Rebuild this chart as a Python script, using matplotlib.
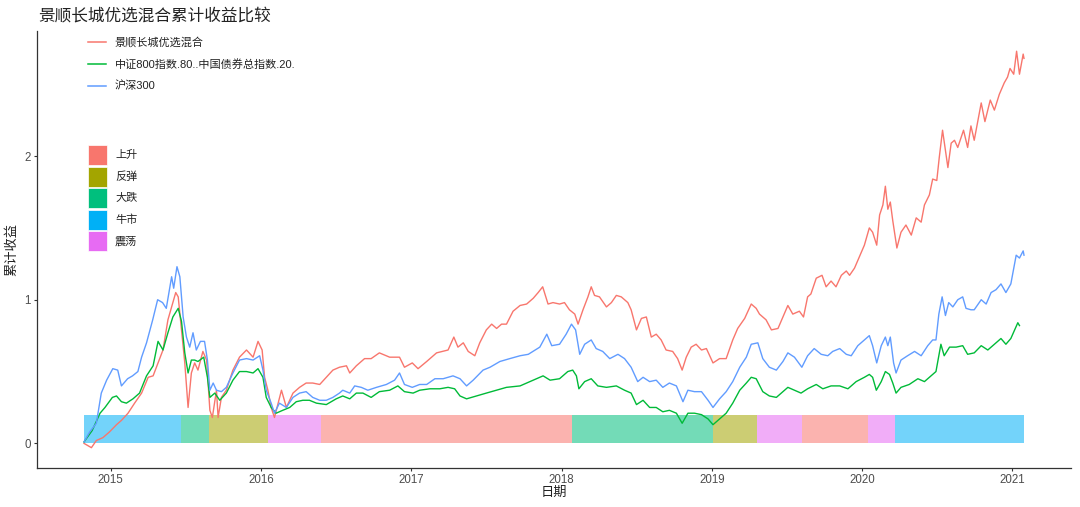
import numpy as np
import pandas as pd
import matplotlib
matplotlib.use('Agg')
import matplotlib.pyplot as plt
import matplotlib.dates as mdates
from matplotlib.lines import Line2D
from matplotlib.patches import Rectangle

plt.rcParams['font.family'] = ['Liberation Sans', 'Noto Sans CJK SC', 'DejaVu Sans']

# ---- data ----
series_names = ['景顺长城优选混合', '中证800指数.80..中国债券总指数.20.', '沪深300']
series_colors = ['#F8766D', '#00BA38', '#619CFF']

fund_dates = ['2014-10-28', '2014-11-15', '2014-11-27', '2014-12-13', '2014-12-29',
              '2015-01-15', '2015-01-27', '2015-02-12', '2015-02-28', '2015-03-17', '2015-04-02', '2015-04-14',
              '2015-04-26', '2015-05-08', '2015-05-20', '2015-06-01', '2015-06-08', '2015-06-14', '2015-06-22',
              '2015-06-30', '2015-07-08', '2015-07-16', '2015-07-24', '2015-08-01', '2015-08-13', '2015-08-22',
              '2015-08-30', '2015-09-05', '2015-09-15', '2015-09-19', '2015-09-27', '2015-10-09', '2015-10-25',
              '2015-11-10', '2015-11-27', '2015-12-13', '2015-12-25',
              '2016-01-04', '2016-01-10', '2016-01-18', '2016-01-26', '2016-02-03', '2016-02-20', '2016-03-03',
              '2016-03-19', '2016-04-04', '2016-04-20', '2016-05-06', '2016-05-23', '2016-06-08', '2016-06-24',
              '2016-07-10', '2016-07-27', '2016-08-04', '2016-08-20', '2016-09-09', '2016-09-25', '2016-10-15',
              '2016-11-09', '2016-12-03', '2016-12-15',
              '2017-01-03', '2017-01-17', '2017-02-07', '2017-03-03', '2017-03-31', '2017-04-14', '2017-04-24',
              '2017-05-07', '2017-05-19', '2017-06-04', '2017-06-16', '2017-07-02', '2017-07-15', '2017-07-27',
              '2017-08-08', '2017-08-20', '2017-09-05', '2017-09-22', '2017-10-08', '2017-10-24', '2017-11-05',
              '2017-11-16', '2017-11-29', '2017-12-11', '2017-12-27',
              '2018-01-08', '2018-01-20', '2018-02-02', '2018-02-10', '2018-02-22', '2018-03-06', '2018-03-14',
              '2018-03-22', '2018-04-03', '2018-04-20', '2018-05-02', '2018-05-14', '2018-05-26', '2018-06-11',
              '2018-06-19', '2018-07-02', '2018-07-14', '2018-07-26', '2018-08-07', '2018-08-19', '2018-08-31',
              '2018-09-12', '2018-09-28', '2018-10-10', '2018-10-21', '2018-10-31', '2018-11-12', '2018-11-24',
              '2018-12-07', '2018-12-19',
              '2019-01-04', '2019-01-20', '2019-02-05', '2019-02-21', '2019-03-05', '2019-03-22', '2019-04-07',
              '2019-04-19', '2019-04-27', '2019-05-13', '2019-05-26', '2019-06-11', '2019-06-23', '2019-07-05',
              '2019-07-17', '2019-08-02', '2019-08-12', '2019-08-22', '2019-08-30', '2019-09-12', '2019-09-26',
              '2019-10-06', '2019-10-18', '2019-10-30', '2019-11-12', '2019-11-24', '2019-12-02', '2019-12-14',
              '2019-12-26',
              '2020-01-07', '2020-01-19', '2020-01-27', '2020-02-06', '2020-02-13', '2020-02-21', '2020-02-27',
              '2020-03-04', '2020-03-10', '2020-03-16', '2020-03-26', '2020-04-05', '2020-04-17', '2020-04-30',
              '2020-05-12', '2020-05-24', '2020-06-01', '2020-06-13', '2020-06-21', '2020-07-01', '2020-07-07',
              '2020-07-15', '2020-07-22', '2020-07-28', '2020-08-05', '2020-08-13', '2020-08-21', '2020-09-04',
              '2020-09-14', '2020-09-22', '2020-09-30', '2020-10-17', '2020-10-26', '2020-11-08', '2020-11-18',
              '2020-11-30', '2020-12-12', '2020-12-20', '2020-12-26',
              '2021-01-04', '2021-01-11', '2021-01-18', '2021-01-27', '2021-01-29']
fund_values = [0.00, -0.03, 0.02, 0.04, 0.08,
               0.13, 0.16, 0.21, 0.28, 0.35, 0.46, 0.47, 0.56, 0.65, 0.86, 0.98, 1.05, 1.02, 0.79, 0.56, 0.25,
               0.49, 0.56, 0.51, 0.64, 0.58, 0.23, 0.18, 0.37, 0.18, 0.32, 0.37, 0.51, 0.60, 0.65, 0.60, 0.71,
               0.65, 0.46, 0.37, 0.25, 0.18, 0.37, 0.25, 0.35, 0.39, 0.42, 0.42, 0.41, 0.46, 0.51, 0.53, 0.54,
               0.49, 0.54, 0.59, 0.59, 0.63, 0.60, 0.60, 0.53,
               0.56, 0.52, 0.57, 0.63, 0.65, 0.74, 0.67, 0.70, 0.64, 0.61, 0.70, 0.79, 0.83, 0.80, 0.83, 0.83,
               0.92, 0.96, 0.97, 1.01, 1.05, 1.09, 0.97, 0.98, 0.97,
               0.98, 0.93, 0.90, 0.83, 0.93, 1.02, 1.09, 1.03, 1.02, 0.95, 0.98, 1.03, 1.02, 0.98, 0.93, 0.79,
               0.87, 0.88, 0.74, 0.76, 0.72, 0.65, 0.64, 0.59, 0.51, 0.60, 0.67, 0.69, 0.65, 0.66,
               0.56, 0.59, 0.59, 0.72, 0.80, 0.87, 0.97, 0.94, 0.90, 0.86, 0.79, 0.80, 0.88, 0.96, 0.90, 0.92,
               0.88, 1.02, 1.04, 1.15, 1.17, 1.09, 1.13, 1.09, 1.17, 1.20, 1.17, 1.22, 1.30,
               1.38, 1.50, 1.47, 1.38, 1.59, 1.66, 1.79, 1.63, 1.68, 1.55, 1.36, 1.47, 1.52, 1.45, 1.57, 1.54,
               1.66, 1.73, 1.84, 1.83, 1.99, 2.18, 2.04, 1.92, 2.09, 2.11, 2.06, 2.18, 2.06, 2.21, 2.11, 2.37,
               2.24, 2.39, 2.32, 2.43, 2.51, 2.55, 2.61,
               2.57, 2.73, 2.57, 2.71, 2.68]

mix_dates = ['2014-10-28', '2014-11-17', '2014-12-06', '2014-12-18',
             '2015-01-05', '2015-01-15', '2015-01-27', '2015-02-08', '2015-02-24', '2015-03-12', '2015-03-29',
             '2015-04-14', '2015-04-26', '2015-05-08', '2015-05-20', '2015-06-01', '2015-06-14', '2015-06-22',
             '2015-06-30', '2015-07-08', '2015-07-16', '2015-07-24', '2015-08-01', '2015-08-15', '2015-08-24',
             '2015-08-30', '2015-09-11', '2015-09-23', '2015-10-09', '2015-10-25', '2015-11-10', '2015-11-27',
             '2015-12-13', '2015-12-25',
             '2016-01-06', '2016-01-14', '2016-01-26', '2016-02-07', '2016-02-23', '2016-03-11', '2016-03-27',
             '2016-04-12', '2016-04-28', '2016-05-15', '2016-06-08', '2016-07-02', '2016-07-18', '2016-08-04',
             '2016-08-20', '2016-09-05', '2016-09-25', '2016-10-15', '2016-11-09', '2016-11-29', '2016-12-15',
             '2017-01-05', '2017-01-21', '2017-02-15', '2017-03-11', '2017-03-31', '2017-04-16', '2017-04-29',
             '2017-05-15', '2017-06-08', '2017-07-02', '2017-07-27', '2017-08-20', '2017-09-22', '2017-10-24',
             '2017-11-17', '2017-12-04', '2017-12-27',
             '2018-01-16', '2018-01-28', '2018-02-06', '2018-02-12', '2018-02-26', '2018-03-14', '2018-03-30',
             '2018-04-20', '2018-05-14', '2018-06-03', '2018-06-19', '2018-07-02', '2018-07-18', '2018-08-03',
             '2018-08-19', '2018-09-04', '2018-09-20', '2018-10-07', '2018-10-21', '2018-11-04', '2018-11-20',
             '2018-12-07', '2018-12-23',
             '2019-01-04', '2019-01-20', '2019-02-05', '2019-02-21', '2019-03-10', '2019-03-26', '2019-04-07',
             '2019-04-19', '2019-05-05', '2019-05-21', '2019-06-07', '2019-06-23', '2019-07-05', '2019-07-21',
             '2019-08-06', '2019-08-22', '2019-09-12', '2019-09-28', '2019-10-18', '2019-11-08', '2019-11-28',
             '2019-12-18',
             '2020-01-07', '2020-01-19', '2020-01-27', '2020-02-05', '2020-02-17', '2020-02-27', '2020-03-08',
             '2020-03-16', '2020-03-24', '2020-04-05', '2020-04-25', '2020-05-16', '2020-06-01', '2020-06-17',
             '2020-06-29', '2020-07-11', '2020-07-19', '2020-08-01', '2020-08-17', '2020-09-02', '2020-09-14',
             '2020-09-30', '2020-10-17', '2020-11-02', '2020-11-18', '2020-12-04', '2020-12-16', '2020-12-28',
             '2021-01-11', '2021-01-14', '2021-01-18']
mix_values = [0.01, 0.09, 0.21, 0.25,
              0.32, 0.33, 0.29, 0.28, 0.31, 0.35, 0.47, 0.54, 0.71, 0.65, 0.77, 0.88, 0.94, 0.85, 0.63, 0.49,
              0.58, 0.58, 0.57, 0.60, 0.46, 0.32, 0.35, 0.30, 0.35, 0.44, 0.50, 0.50, 0.49, 0.52,
              0.46, 0.32, 0.25, 0.21, 0.23, 0.25, 0.29, 0.30, 0.30, 0.28, 0.27, 0.31, 0.33, 0.31, 0.35, 0.35,
              0.32, 0.36, 0.37, 0.40, 0.36,
              0.35, 0.37, 0.38, 0.38, 0.39, 0.38, 0.33, 0.31, 0.33, 0.35, 0.37, 0.39, 0.40, 0.44, 0.47, 0.44,
              0.45,
              0.50, 0.51, 0.47, 0.38, 0.43, 0.45, 0.40, 0.39, 0.40, 0.37, 0.35, 0.27, 0.30, 0.25, 0.25, 0.22,
              0.23, 0.21, 0.14, 0.21, 0.21, 0.20, 0.17,
              0.13, 0.17, 0.21, 0.28, 0.37, 0.42, 0.46, 0.45, 0.36, 0.33, 0.32, 0.36, 0.39, 0.37, 0.35, 0.38,
              0.41, 0.38, 0.40, 0.40, 0.38, 0.43,
              0.46, 0.48, 0.46, 0.37, 0.43, 0.50, 0.48, 0.42, 0.35, 0.39, 0.41, 0.45, 0.43, 0.47, 0.50, 0.69,
              0.61, 0.67, 0.67, 0.68, 0.62, 0.63, 0.68, 0.65, 0.69, 0.73, 0.69, 0.73,
              0.82, 0.84, 0.82]

hs300_dates = ['2014-10-28', '2014-11-11', '2014-11-27', '2014-12-09', '2014-12-22',
               '2015-01-06', '2015-01-18', '2015-01-27', '2015-02-11', '2015-02-23', '2015-03-08', '2015-03-17',
               '2015-03-29', '2015-04-13', '2015-04-25', '2015-05-07', '2015-05-16', '2015-05-29', '2015-06-03',
               '2015-06-11', '2015-06-18', '2015-06-26', '2015-07-04', '2015-07-12', '2015-07-20', '2015-07-28',
               '2015-08-07', '2015-08-17', '2015-08-24', '2015-08-30', '2015-09-07', '2015-09-15', '2015-09-27',
               '2015-10-09', '2015-10-25', '2015-11-10', '2015-11-27', '2015-12-13', '2015-12-29',
               '2016-01-06', '2016-01-14', '2016-01-26', '2016-02-03', '2016-02-15', '2016-03-03', '2016-03-19',
               '2016-04-04', '2016-04-20', '2016-05-06', '2016-05-23', '2016-06-08', '2016-06-24', '2016-07-10',
               '2016-07-18', '2016-08-04', '2016-08-16', '2016-09-01', '2016-09-17', '2016-10-08', '2016-11-01',
               '2016-11-21', '2016-12-03', '2016-12-15',
               '2017-01-03', '2017-01-21', '2017-02-07', '2017-02-27', '2017-03-19', '2017-04-12', '2017-04-29',
               '2017-05-15', '2017-05-31', '2017-06-24', '2017-07-11', '2017-08-04', '2017-08-28', '2017-09-22',
               '2017-10-12', '2017-11-09', '2017-11-26', '2017-12-08', '2017-12-27',
               '2018-01-12', '2018-01-25', '2018-02-04', '2018-02-14', '2018-02-26', '2018-03-14', '2018-03-26',
               '2018-04-11', '2018-04-28', '2018-05-18', '2018-06-03', '2018-06-19', '2018-07-05', '2018-07-18',
               '2018-08-03', '2018-08-19', '2018-09-04', '2018-09-20', '2018-10-07', '2018-10-23', '2018-11-04',
               '2018-11-20', '2018-12-07', '2018-12-23',
               '2019-01-04', '2019-01-20', '2019-02-05', '2019-02-21', '2019-03-10', '2019-03-26', '2019-04-07',
               '2019-04-23', '2019-05-05', '2019-05-21', '2019-06-07', '2019-06-23', '2019-07-05', '2019-07-21',
               '2019-08-08', '2019-08-22', '2019-09-07', '2019-09-24', '2019-10-10', '2019-10-22', '2019-11-08',
               '2019-11-24', '2019-12-06', '2019-12-22',
               '2020-01-07', '2020-01-19', '2020-01-27', '2020-02-06', '2020-02-17', '2020-02-27', '2020-03-04',
               '2020-03-10', '2020-03-18', '2020-03-24', '2020-04-05', '2020-04-21', '2020-05-08', '2020-05-24',
               '2020-06-09', '2020-06-21', '2020-06-29', '2020-07-06', '2020-07-14', '2020-07-22', '2020-07-30',
               '2020-08-09', '2020-08-21', '2020-09-02', '2020-09-10', '2020-09-22', '2020-09-30', '2020-10-17',
               '2020-10-29', '2020-11-10', '2020-11-22', '2020-12-04', '2020-12-16', '2020-12-28',
               '2021-01-06', '2021-01-10', '2021-01-18', '2021-01-27', '2021-01-29']
hs300_values = [0.01, 0.08, 0.14, 0.35, 0.44,
                0.52, 0.51, 0.40, 0.45, 0.47, 0.50, 0.60, 0.70, 0.86, 1.00, 0.98, 0.94, 1.16, 1.08, 1.23, 1.16,
                0.88, 0.74, 0.67, 0.77, 0.65, 0.71, 0.71, 0.58, 0.37, 0.42, 0.37, 0.36, 0.39, 0.49, 0.58, 0.59,
                0.58, 0.61,
                0.51, 0.37, 0.28, 0.21, 0.28, 0.25, 0.32, 0.35, 0.36, 0.32, 0.30, 0.30, 0.32, 0.35, 0.37, 0.35,
                0.40, 0.39, 0.37, 0.39, 0.41, 0.44, 0.49, 0.41,
                0.39, 0.41, 0.41, 0.45, 0.45, 0.47, 0.45, 0.40, 0.44, 0.51, 0.53, 0.57, 0.59, 0.61, 0.62, 0.67,
                0.76, 0.68, 0.69,
                0.76, 0.83, 0.79, 0.62, 0.69, 0.72, 0.66, 0.64, 0.59, 0.62, 0.59, 0.53, 0.43, 0.46, 0.43, 0.44,
                0.39, 0.42, 0.40, 0.29, 0.37, 0.36, 0.36, 0.30,
                0.25, 0.31, 0.36, 0.43, 0.53, 0.60, 0.69, 0.70, 0.59, 0.53, 0.51, 0.57, 0.63, 0.60, 0.53, 0.61,
                0.66, 0.62, 0.61, 0.64, 0.66, 0.62, 0.61, 0.68,
                0.72, 0.75, 0.68, 0.56, 0.68, 0.74, 0.68, 0.74, 0.56, 0.49, 0.58, 0.61, 0.64, 0.61, 0.68, 0.72,
                0.72, 0.90, 1.02, 0.89, 0.98, 0.95, 1.00, 1.02, 0.94, 0.93, 0.93, 1.00, 0.97, 1.05, 1.07, 1.11,
                1.05, 1.11,
                1.25, 1.31, 1.29, 1.34, 1.31]

# market regime periods shown as bands under the lines
regime_names = ['上升', '反弹', '大跌', '牛市', '震荡']
regime_colors = ['#F8766D', '#A3A500', '#00BF7D', '#00B0F6', '#E76BF3']
period_start = ['2014-10-28', '2015-06-20', '2015-08-28', '2016-01-19', '2016-05-27', '2018-01-26',
                '2019-01-04', '2019-04-22', '2019-08-08', '2020-01-16', '2020-03-22']
period_end = ['2015-06-20', '2015-08-28', '2016-01-19', '2016-05-27', '2018-01-26', '2019-01-04',
              '2019-04-22', '2019-08-08', '2020-01-16', '2020-03-22', '2021-01-28']
period_regime = ['牛市', '大跌', '反弹', '震荡', '上升', '大跌', '反弹', '震荡', '上升', '震荡', '牛市']
band_top = 0.2

# ---- plot ----
W, H = 1080, 507
fig = plt.figure(figsize=(W / 100, H / 100), dpi=100)
ax = fig.add_axes([37 / W, 1 - 467.5 / H, (1071 - 37) / W, (467.5 - 31.4) / H])

regime_color = dict(zip(regime_names, regime_colors))
for s, e, r in zip(period_start, period_end, period_regime):
    ax.fill_between(pd.to_datetime([s, e]), 0, band_top, color=regime_color[r],
                    alpha=0.55, lw=0, zorder=1)

all_dates = [fund_dates, mix_dates, hs300_dates]
all_values = [fund_values, mix_values, hs300_values]
for d, v, c in zip(all_dates, all_values, series_colors):
    ax.plot(pd.to_datetime(d), v, color=c, lw=1.0, zorder=3)

ax.margins(x=0.05, y=0.05)
ax.set_yticks([0, 1, 2])
ax.xaxis.set_major_locator(mdates.YearLocator())
ax.xaxis.set_major_formatter(mdates.DateFormatter('%Y'))

for side in ['top', 'right']:
    ax.spines[side].set_visible(False)
for side in ['left', 'bottom']:
    ax.spines[side].set_color('#333333')
    ax.spines[side].set_linewidth(0.9)
ax.tick_params(axis='both', colors='#333333', length=2.5, width=0.8, labelsize=8.3,
               labelcolor='#4D4D4D', pad=2)

ax.set_xlabel('日期', fontsize=9.5, color='#222222', labelpad=1)
ax.set_ylabel('累计收益', fontsize=9.5, color='#222222', labelpad=4)
fig.text(38 / W, 1 - 15 / H, '景顺长城优选混合累计收益比较', fontsize=12,
         color='#222222', va='center', ha='left')

# legends drawn by hand to follow the reference placement
def fx(px):
    return px / W

def fy(py):
    return 1 - py / H

line_rows = [42, 64, 86]
for name, c, y in zip(series_names, series_colors, line_rows):
    fig.add_artist(Line2D([fx(88), fx(106)], [fy(y), fy(y)], color=c, lw=1.1))
    fig.text(fx(115), fy(y), name, fontsize=8, color='#222222', va='center', ha='left')

fill_rows = [155, 176.5, 198, 219.5, 241]
for name, c, y in zip(regime_names, regime_colors, fill_rows):
    fig.add_artist(Rectangle((fx(87.5), fy(y + 10)), 19 / W, 20 / H, facecolor=c,
                             edgecolor='white', lw=0.5))
    fig.text(fx(115), fy(y), name, fontsize=8, color='#222222', va='center', ha='left')

fig.savefig('out.png', dpi=100)
